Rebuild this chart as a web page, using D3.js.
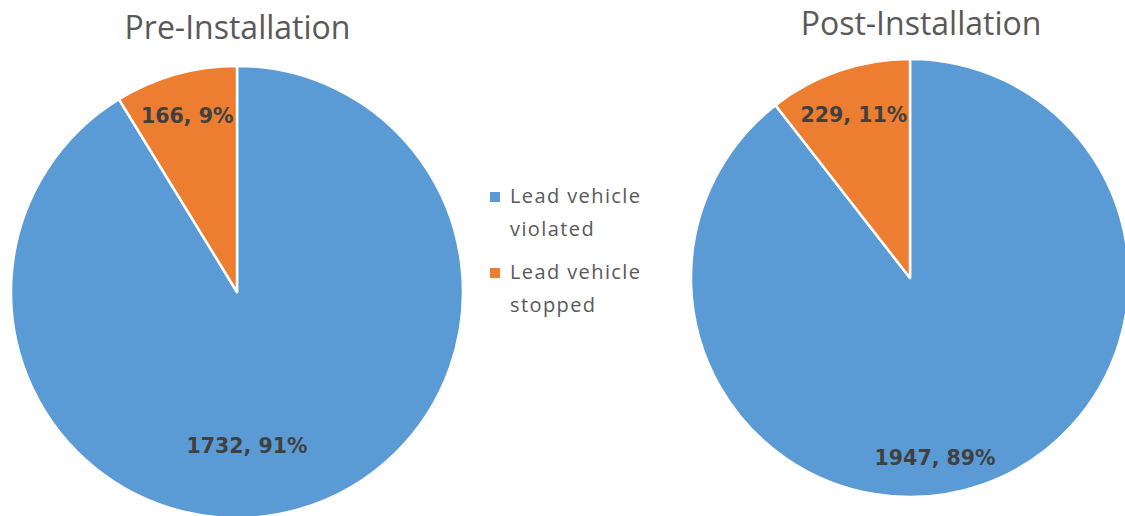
<!DOCTYPE html>
<meta charset="utf-8">
<head>
  <title>pies</title>
</head>
<style>
body { margin: 0; background: #fff; }
.title { font-family: "Open Sans", sans-serif; fill: #595959; }
.lbl { font-family: "DejaVu Sans", sans-serif; font-weight: bold; fill: #404040; }
.leg { font-family: "Open Sans", sans-serif; fill: #595959; }
</style>
<body>
<svg id="chart" width="1125" height="516"></svg>
<script src="https://cdnjs.cloudflare.com/ajax/libs/d3/7.8.5/d3.min.js"></script>
<script>
// data
var categories = ["Lead vehicle violated", "Lead vehicle stopped"];
var legendLines = [["Lead vehicle", "violated"], ["Lead vehicle", "stopped"]];
var chartTitles = ["Pre-Installation", "Post-Installation"];
var preValues = [1732, 166];
var postValues = [1947, 229];
var prePercents = ["91%", "9%"];
var postPercents = ["89%", "11%"];

var colors = ["#5B9BD5", "#ED7D31"];
var svg = d3.select("#chart");

// layout of each pie
var pies = [
  {title: chartTitles[0], values: preValues, pct: prePercents, cx: 237, cy: 292, r: 226, tx: 237.5, ty: 39,
   // label angle nudge (deg) and radius fraction for each slice
   lab: [{da: 12, f: 0.68}, {da: 0, f: 0.81}]},
  {title: chartTitles[1], values: postValues, pct: postPercents, cx: 910, cy: 278, r: 219, tx: 921, ty: 35,
   lab: [{da: 11, f: 0.83}, {da: 0, f: 0.79}]}
];

var pieGen = d3.pie().sort(null).value(function(d){ return d; });

pies.forEach(function(p){
  var g = svg.append("g").attr("transform", "translate(" + p.cx + "," + p.cy + ")");
  var arcs = pieGen(p.values);
  var arc = d3.arc().innerRadius(0).outerRadius(p.r);

  g.selectAll("path")
    .data(arcs)
    .enter()
    .append("path")
    .attr("d", arc)
    .attr("fill", function(d, i){ return colors[i]; })
    .attr("stroke", "#fff")
    .attr("stroke-width", 2.5)
    .attr("stroke-linejoin", "round");

  g.selectAll("text.lbl")
    .data(arcs)
    .enter()
    .append("text")
    .attr("class", "lbl")
    .attr("text-anchor", "middle")
    .attr("dy", "0.36em")
    .style("font-size", "20.5px")
    .attr("x", function(d, i){
      var a = (d.startAngle + d.endAngle) / 2 + p.lab[i].da * Math.PI / 180;
      return Math.sin(a) * p.r * p.lab[i].f;
    })
    .attr("y", function(d, i){
      var a = (d.startAngle + d.endAngle) / 2 + p.lab[i].da * Math.PI / 180;
      return -Math.cos(a) * p.r * p.lab[i].f;
    })
    .text(function(d, i){ return d.data + ", " + p.pct[i]; });

  svg.append("text")
    .attr("class", "title")
    .attr("x", p.tx)
    .attr("y", p.ty)
    .attr("text-anchor", "middle")
    .style("font-size", "32px")
    .text(p.title);
});

// legend
var leg = svg.append("g").attr("transform", "translate(490,192)");
var items = leg.selectAll("g")
  .data(categories)
  .enter()
  .append("g")
  .attr("transform", function(d, i){ return "translate(0," + (i * 76) + ")"; });

items.append("rect")
  .attr("width", 10)
  .attr("height", 10)
  .attr("fill", function(d, i){ return colors[i]; });

items.append("text")
  .attr("class", "leg")
  .attr("x", 20)
  .attr("y", 11)
  .style("font-size", "20px")
  .style("letter-spacing", "1.4px")
  .selectAll("tspan")
  .data(function(d, i){ return legendLines[i]; })
  .enter()
  .append("tspan")
  .attr("x", 20)
  .attr("dy", function(d, j){ return j === 0 ? 0 : 33; })
  .text(function(d){ return d; });
</script>
</body>
</html>
